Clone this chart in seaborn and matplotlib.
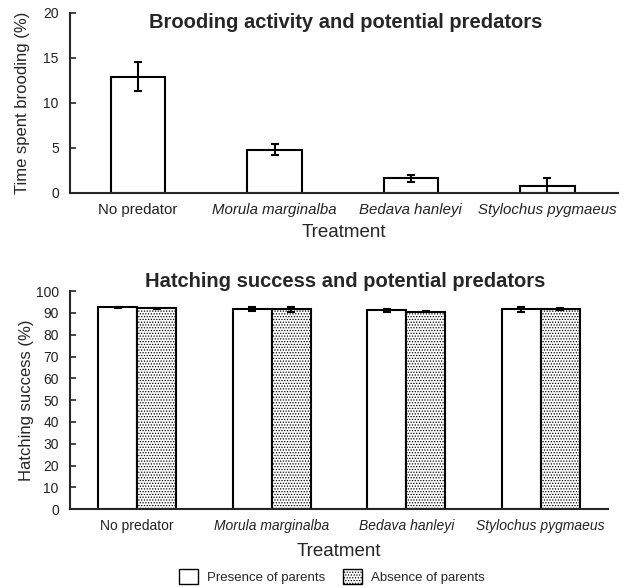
import matplotlib
matplotlib.use("Agg")
import matplotlib.pyplot as plt
from matplotlib.patches import Patch
import pandas as pd
import seaborn as sns

# ─── Data ─────────────────────────────────────────────────────────────────────
treatments = ["No predator", "Morula marginalba", "Bedava hanleyi", "Stylochus pygmaeus"]
italic_labels = [False, True, True, True]

brood_mean = [12.9, 4.8, 1.6, 0.8]
brood_err = [1.6, 0.6, 0.4, 0.8]

groups = ["Presence of parents", "Absence of parents"]
hatch_present = [92.5, 91.7, 91.2, 91.6]
hatch_present_err = [0.3, 1.0, 0.6, 1.0]
hatch_absent = [92.1, 91.7, 90.6, 91.7]
hatch_absent_err = [0.3, 1.2, 0.3, 0.6]

# ─── Style ────────────────────────────────────────────────────────────────────
sns.set_theme(style="ticks")
plt.rcParams["font.family"] = ["Liberation Sans", "DejaVu Sans"]
plt.rcParams["hatch.linewidth"] = 0.6
plt.rcParams["hatch.color"] = "black"

fig = plt.figure(figsize=(6.36, 5.88), dpi=100)
ax1 = fig.add_axes([0.110, 0.672, 0.862, 0.306])
ax2 = fig.add_axes([0.110, 0.134, 0.846, 0.371])

# ─── Plot 1: brooding ────────────────────────────────────────────────────────
df1 = pd.DataFrame({"Treatment": treatments, "value": brood_mean})
sns.barplot(data=df1, x="Treatment", y="value", order=treatments, color="white",
            edgecolor="black", linewidth=1.5, width=0.4, errorbar=None, ax=ax1)
xs = [p.get_x() + p.get_width() / 2 for p in ax1.patches]
ax1.errorbar(xs, brood_mean, yerr=brood_err, fmt="none", ecolor="black",
             elinewidth=1.5, capsize=3, capthick=1.5)
ax1.set_xlim(-0.5, 3.52)
ax1.set_ylim(0, 20)
ax1.set_yticks([0, 5, 10, 15, 20])
ax1.set_ylabel("Time spent brooding (%)", fontsize=12)
ax1.yaxis.set_label_coords(-0.073, 0.5)
ax1.set_xlabel("Treatment", fontsize=13.5, labelpad=5)

# ─── Plot 2: hatching ────────────────────────────────────────────────────────
df2 = pd.DataFrame({
    "Treatment": treatments * 2,
    "group": [groups[0]] * 4 + [groups[1]] * 4,
    "value": hatch_present + hatch_absent,
})
sns.barplot(data=df2, x="Treatment", y="value", hue="group", order=treatments,
            hue_order=groups, palette=["white", "white"], edgecolor="black",
            linewidth=1.5, width=0.58, gap=0, errorbar=None, legend=False, ax=ax2)
bars = ax2.patches
for p in bars[4:8]:
    p.set_hatch("......")
xs2 = [p.get_x() + p.get_width() / 2 for p in bars[:8]]
ax2.errorbar(xs2, hatch_present + hatch_absent,
             yerr=hatch_present_err + hatch_absent_err, fmt="none",
             ecolor="black", elinewidth=1.5, capsize=3, capthick=1.5)
ax2.set_xlim(-0.5, 3.5)
ax2.set_ylim(0, 100)
ax2.set_yticks(range(0, 101, 10))
ax2.set_ylabel("Hatching success (%)", fontsize=12)
ax2.yaxis.set_label_coords(-0.067, 0.5)
ax2.set_xlabel("Treatment", fontsize=13.5, labelpad=7)

# ─── Shared axis cosmetics ───────────────────────────────────────────────────
for ax, xsize in ((ax1, 10.8), (ax2, 10)):
    sns.despine(ax=ax)
    for s in ("left", "bottom"):
        ax.spines[s].set_linewidth(1.5)
    ax.tick_params(axis="y", direction="in", length=4, width=1.2, labelsize=10,
                   pad=8, labelcolor="#222222")
    ax.tick_params(axis="x", length=0, labelsize=xsize, pad=7, labelcolor="#222222")
    ax.set_xticks(range(4))
    ax.set_xticklabels(treatments)
    for lab, it in zip(ax.get_xticklabels(), italic_labels):
        if it:
            lab.set_style("italic")

fig.text(0.543, 0.962, "Brooding activity and potential predators",
         ha="center", va="center", fontsize=14.5, fontweight="bold")
fig.text(0.543, 0.522, "Hatching success and potential predators",
         ha="center", va="center", fontsize=14.5, fontweight="bold")

handles = [Patch(facecolor="white", edgecolor="black", linewidth=1),
           Patch(facecolor="white", edgecolor="black", linewidth=1, hatch="......")]
fig.legend(handles, groups, loc="center", bbox_to_anchor=(0.522, 0.02), ncol=2,
           frameon=False, fontsize=9.5, handlelength=1.4, handleheight=1.4,
           columnspacing=1.4, handletextpad=0.7)

plt.savefig("out.png", dpi=100)
plt.close()
